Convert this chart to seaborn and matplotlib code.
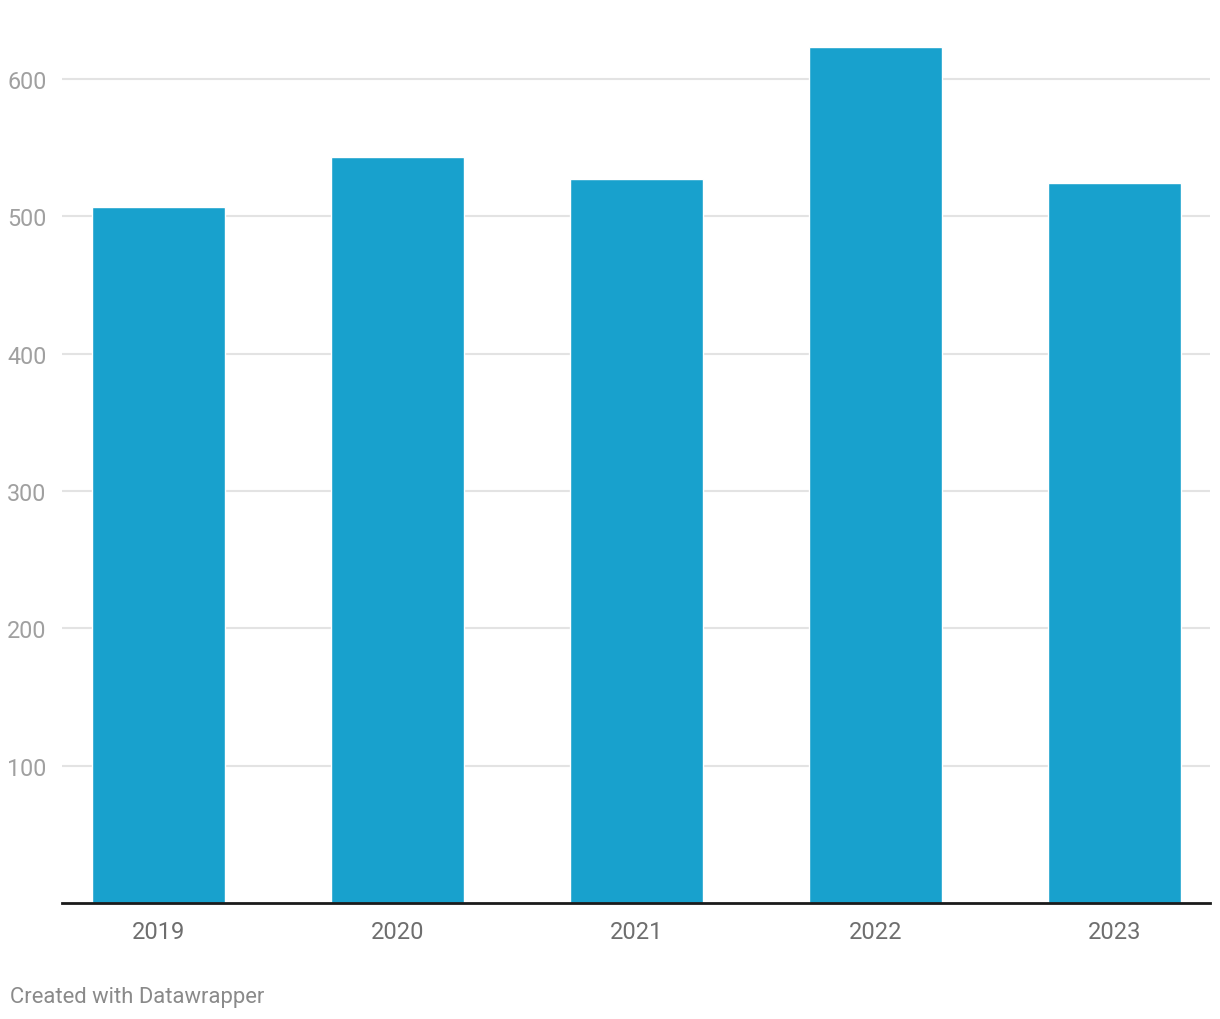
import pandas as pd
import seaborn as sns
import matplotlib.pyplot as plt

years = ["2019", "2020", "2021", "2022", "2023"]
values = [507, 543, 527, 623, 524]
y_ticks = [100, 200, 300, 400, 500, 600]

sns.set_style("white")
plt.rcParams['font.family'] = ['Roboto', 'DejaVu Sans']

df = pd.DataFrame({"year": years, "value": values})

fig = plt.figure(figsize=(12.2, 10.2), dpi=100)
ax = fig.add_axes([62 / 1220, 116 / 1020, 1148 / 1220, 865.2 / 1020])

sns.barplot(data=df, x="year", y="value", color="#18a1cd", width=0.56,
            saturation=1, ax=ax, zorder=3)

ax.set_ylim(0, 630)
ax.set_xlim(-0.404, 4.40)
ax.set_yticks(y_ticks)
ax.yaxis.grid(True, color="#e3e3e3", linewidth=1.5, zorder=0)
ax.set_axisbelow(True)

for side in ["top", "right", "left"]:
    ax.spines[side].set_visible(False)
ax.spines["bottom"].set_color("#1a1a1a")
ax.spines["bottom"].set_linewidth(2)
ax.spines["bottom"].set_zorder(4)

ax.tick_params(axis="y", length=0, pad=11, labelsize=16.8, labelcolor="#a0a0a0")
ax.tick_params(axis="x", length=0, pad=12, labelsize=17, labelcolor="#6e6e6e")
ax.set_xlabel("")
ax.set_ylabel("")

fig.text(10 / 1220, 1 - 998 / 1020, "Created with Datawrapper", fontsize=15.8,
         color="#8a8a8a", va="center", ha="left")

fig.savefig("out.png", dpi=100)
